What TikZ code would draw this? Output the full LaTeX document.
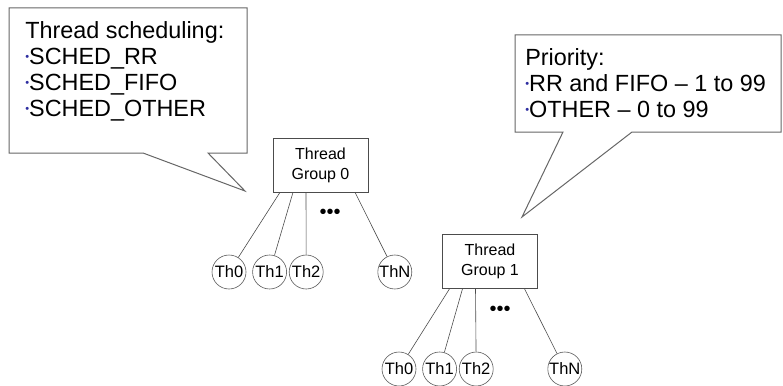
\documentclass[tikz,border=0pt]{standalone}
\usepackage{fontspec}
\setmainfont{Liberation Sans}
\usetikzlibrary{positioning}

\definecolor{bulletblue}{RGB}{45,45,160}
\newcommand{\bul}{\raisebox{4pt}{\fontsize{11}{11}\selectfont\color{bulletblue}•}}

\begin{document}
\begin{tikzpicture}[
            x = 1pt, y = -1pt, % pixel units, y downwards
            semithick, % line style
            node distance = 1pt % circles almost touch
        ]

        \tikzstyle{group}=[
            draw = black!70,
            fill = white,
            minimum width = 95pt,
            minimum height = 54pt,
            align = center,
            font = \fontsize{16}{20}\selectfont
        ]
        \tikzstyle{thread}=[
            draw = black!65,
            circle,
            minimum size = 34pt,
            inner sep = 0pt,
            font = \fontsize{16.5}{17}\selectfont
        ]
        \tikzstyle{callout}=[draw = black!60, line width = 1pt, fill = white]
        \tikzstyle{bubbletext}=[
            anchor = north west,
            inner sep = 0pt,
            align = left,
            font = \fontsize{23.4}{26}\selectfont
        ]
        \tikzstyle{edge}=[draw = black!70]
        \tikzstyle{more}=[font = \fontsize{20}{20}\selectfont]

        \useasboundingbox (0,0) rectangle (783,385);

	% callout: scheduling
	\coordinate (schedtip) at (245,191);
	\draw[callout] (9,8) -- (247,8) -- (247,153) -- (208,153) -- (schedtip)
	    -- (143,153) -- (9,153) -- cycle;
	\node[bubbletext] (sched) at (25,21.5) {Thread scheduling:\\ \bul SCHED\_RR\\ \bul SCHED\_FIFO\\ \bul SCHED\_OTHER};

	% callout: priority
	\coordinate (priotip) at (522,217);
	\draw[callout] (515,35) -- (781,35) -- (781,132) -- (632,132) -- (priotip)
	    -- (563,132) -- (515,132) -- cycle;
	\node[bubbletext] (prio) at (525,48) {Priority:\\ \bul RR and FIFO -- 1 to 99\\ \bul OTHER -- 0 to 99};

	% group 0
	\node[group] (g0) at (320.5,165) {Thread\\ Group 0};
	\node[thread] (a0) at (229,272) {Th0};
	\node[thread] (a1) [right=6pt of a0] {Th1};
	\node[thread] (a2) [right=2pt of a1] {Th2};
	\node[thread] (aN) [right=54pt of a2] {ThN};
	\node[more] (adots) at (330,214) {•••};

	\draw[edge] ([xshift=-40.5pt]g0.south) -- (a0);
	\draw[edge] ([xshift=-27.5pt]g0.south) -- (a1);
	\draw[edge] ([xshift=-14.5pt]g0.south) -- (a2);
	\draw[edge] ([xshift=34.5pt]g0.south) -- (aN);

	% group 1
	\node[group] (g1) at (490,261.5) {Thread\\ Group 1};
	\node[thread] (b0) at (399,369) {Th0};
	\node[thread] (b1) [right=6pt of b0] {Th1};
	\node[thread] (b2) [right=2pt of b1] {Th2};
	\node[thread] (bN) [right=54pt of b2] {ThN};
	\node[more] (bdots) at (500,311) {•••};

	\draw[edge] ([xshift=-40.5pt]g1.south) -- (b0);
	\draw[edge] ([xshift=-27.5pt]g1.south) -- (b1);
	\draw[edge] ([xshift=-14.5pt]g1.south) -- (b2);
	\draw[edge] ([xshift=34.5pt]g1.south) -- (bN);

    \end{tikzpicture}
\end{document}
